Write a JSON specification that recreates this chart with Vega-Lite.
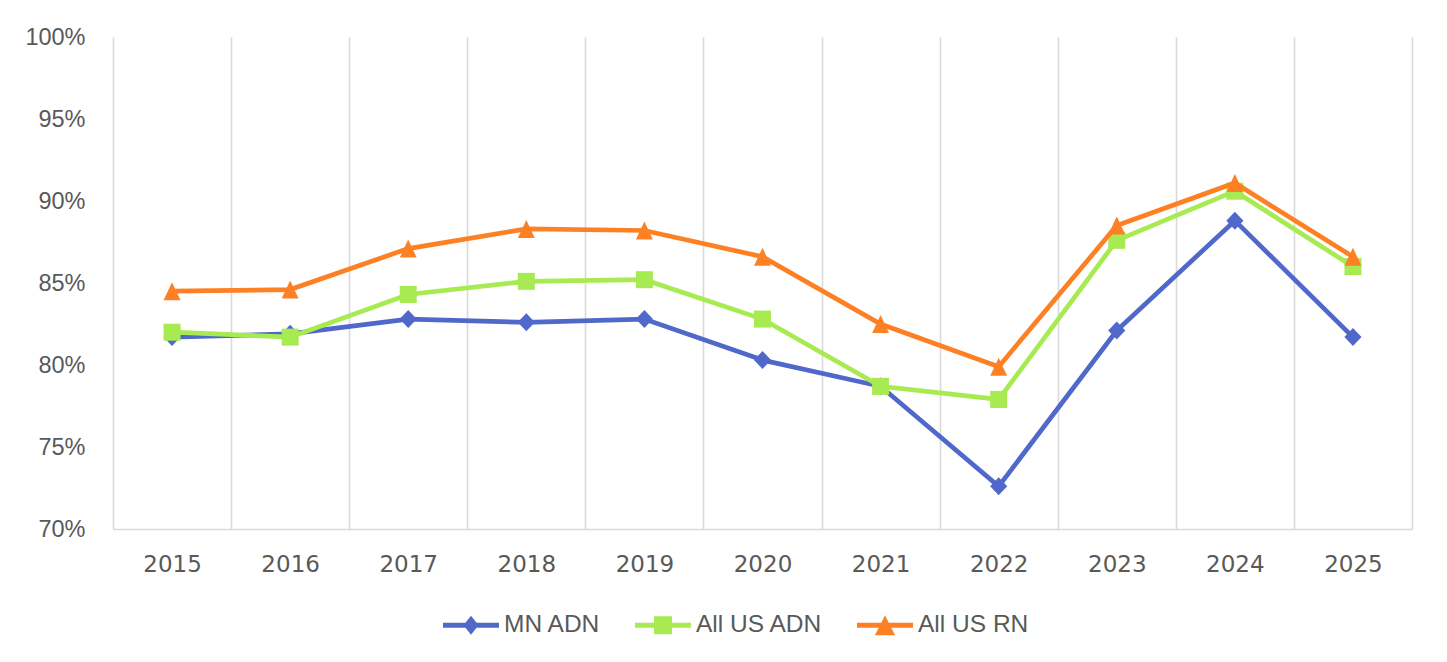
{
  "$schema": "https://vega.github.io/schema/vega-lite/v6.json",
  "width": 1299,
  "height": 492,
  "autosize": {"type": "none"},
  "padding": {"left": 113, "top": 37, "right": 35, "bottom": 133},
  "background": "white",
  "config": {
    "view": {"stroke": null},
    "font": "Liberation Sans"
  },
  "data": {
    "values": [
      {"year": "2015", "series": "MN ADN", "value": 0.817},
      {"year": "2016", "series": "MN ADN", "value": 0.819},
      {"year": "2017", "series": "MN ADN", "value": 0.828},
      {"year": "2018", "series": "MN ADN", "value": 0.826},
      {"year": "2019", "series": "MN ADN", "value": 0.828},
      {"year": "2020", "series": "MN ADN", "value": 0.803},
      {"year": "2021", "series": "MN ADN", "value": 0.787},
      {"year": "2022", "series": "MN ADN", "value": 0.726},
      {"year": "2023", "series": "MN ADN", "value": 0.821},
      {"year": "2024", "series": "MN ADN", "value": 0.888},
      {"year": "2025", "series": "MN ADN", "value": 0.817},
      {"year": "2015", "series": "All US ADN", "value": 0.820},
      {"year": "2016", "series": "All US ADN", "value": 0.817},
      {"year": "2017", "series": "All US ADN", "value": 0.843},
      {"year": "2018", "series": "All US ADN", "value": 0.851},
      {"year": "2019", "series": "All US ADN", "value": 0.852},
      {"year": "2020", "series": "All US ADN", "value": 0.828},
      {"year": "2021", "series": "All US ADN", "value": 0.787},
      {"year": "2022", "series": "All US ADN", "value": 0.779},
      {"year": "2023", "series": "All US ADN", "value": 0.876},
      {"year": "2024", "series": "All US ADN", "value": 0.906},
      {"year": "2025", "series": "All US ADN", "value": 0.860},
      {"year": "2015", "series": "All US RN", "value": 0.845},
      {"year": "2016", "series": "All US RN", "value": 0.846},
      {"year": "2017", "series": "All US RN", "value": 0.871},
      {"year": "2018", "series": "All US RN", "value": 0.883},
      {"year": "2019", "series": "All US RN", "value": 0.882},
      {"year": "2020", "series": "All US RN", "value": 0.866},
      {"year": "2021", "series": "All US RN", "value": 0.825},
      {"year": "2022", "series": "All US RN", "value": 0.799},
      {"year": "2023", "series": "All US RN", "value": 0.885},
      {"year": "2024", "series": "All US RN", "value": 0.911},
      {"year": "2025", "series": "All US RN", "value": 0.866}
    ]
  },
  "encoding": {
    "x": {
      "field": "year",
      "type": "ordinal",
      "bandPosition": 0.5,
      "scale": {"type": "band", "paddingInner": 0, "paddingOuter": 0},
      "axis": {
        "title": null,
        "tickBand": "extent",
        "grid": true,
        "gridColor": "#d9d9d9",
        "gridWidth": 1.6,
        "domainColor": "#d9d9d9",
        "domainWidth": 1.6,
        "ticks": false,
        "labelAngle": 0,
        "labelPadding": 24,
        "labelFontSize": 23,
        "labelColor": "#595959",
        "labelFont": "DejaVu Sans"
      }
    },
    "y": {
      "field": "value",
      "type": "quantitative",
      "scale": {"domain": [0.7, 1.0], "nice": false, "zero": false},
      "axis": {
        "title": null,
        "values": [0.7, 0.75, 0.8, 0.85, 0.9, 0.95, 1.0],
        "format": ".0%",
        "grid": false,
        "domain": false,
        "ticks": false,
        "labelPadding": 28,
        "labelFontSize": 23.5,
        "labelColor": "#595959",
        "labelFont": "Liberation Sans"
      }
    },
    "color": {
      "field": "series",
      "type": "nominal",
      "scale": {
        "domain": ["MN ADN", "All US ADN", "All US RN"],
        "range": ["#4f68c9", "#a7ea52", "#fd8024"]
      },
      "legend": {
        "title": null,
        "orient": "none",
        "legendX": 330,
        "legendY": 560,
        "direction": "horizontal",
        "symbolSize": 3136,
        "labelOffset": 5,
        "columnPadding": 34,
        "labelFontSize": 24.5,
        "labelColor": "#595959",
        "labelFont": "Liberation Sans",
        "encode": {
          "symbols": {
            "update": {
              "shape": {"signal": "datum.value === 'MN ADN' ? 'M-1,-0.09H1V0.09H-1Z M0,-0.34L0.27,0L0,0.34L-0.27,0Z' : datum.value === 'All US ADN' ? 'M-1,-0.09H1V0.09H-1Z M-0.32,-0.32H0.32V0.32H-0.32Z' : 'M-1,-0.09H1V0.09H-1Z M0,-0.36L0.36,0.36H-0.36Z'"},
              "fill": {"signal": "scale('color', datum.value)"},
              "fillOpacity": {"value": 1},
              "strokeWidth": {"value": 0},
              "opacity": {"value": 1}
            }
          }
        }
      }
    }
  },
  "layer": [
    {
      "transform": [{"filter": "datum.series === 'MN ADN'"}],
      "mark": {
        "type": "line",
        "strokeWidth": 4.7,
        "point": {"shape": "M0,-1L0.95,0L0,1L-0.95,0Z", "size": 324, "filled": true, "opacity": 1}
      }
    },
    {
      "transform": [{"filter": "datum.series === 'All US ADN'"}],
      "mark": {
        "type": "line",
        "strokeWidth": 4.7,
        "point": {"shape": "square", "size": 289, "filled": true, "opacity": 1}
      }
    },
    {
      "transform": [{"filter": "datum.series === 'All US RN'"}],
      "mark": {
        "type": "line",
        "strokeWidth": 4.7,
        "point": {"shape": "M0,-1L0.94,1L-0.94,1Z", "size": 324, "filled": true, "opacity": 1}
      }
    }
  ]
}
